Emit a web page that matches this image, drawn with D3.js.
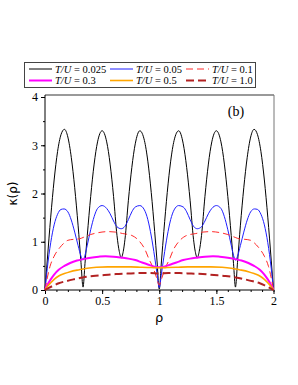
<!DOCTYPE html>
<html>
<head>
<meta charset="utf-8">
<script src="https://cdn.jsdelivr.net/npm/d3@7"></script>
<style>
  body { margin: 0; background: #fff; }
  svg { display: block; }
  .tick text { font-family: "Liberation Serif", "Times New Roman", serif; font-size: 12px; }
</style>
</head>
<body>
<script>
// kappa(rho) curves
var k025 = [[0,0],[0.02,0.62],[0.05,1.51],[0.08,2.28],[0.11,2.87],[0.14,3.22],[0.17,3.33],[0.20,3.17],[0.23,2.75],[0.26,2.12],[0.29,1.33],[0.315,0.57],[0.333,0.06],
  [0.35,0.55],[0.37,1.13],[0.40,1.94],[0.43,2.61],[0.46,3.07],[0.50,3.30],[0.54,3.07],[0.57,2.61],[0.60,1.94],[0.63,1.13],[0.65,0.80],[0.667,0.67],
  [0.685,0.80],[0.70,1.05],[0.73,1.86],[0.76,2.54],[0.79,3.03],[0.83,3.30],[0.87,3.10],[0.90,2.67],[0.93,2.02],[0.96,1.21],[0.98,0.62],[1.0,0.02],
  [1.02,0.62],[1.04,1.21],[1.07,2.02],[1.10,2.67],[1.13,3.10],[1.17,3.30],[1.21,3.03],[1.24,2.54],[1.27,1.86],[1.30,1.05],[1.315,0.80],[1.333,0.67],
  [1.35,0.80],[1.37,1.13],[1.40,1.94],[1.43,2.61],[1.46,3.07],[1.50,3.30],[1.54,3.07],[1.57,2.61],[1.60,1.94],[1.63,1.13],[1.65,0.55],[1.667,0.06],
  [1.685,0.57],[1.71,1.33],[1.74,2.12],[1.77,2.75],[1.80,3.17],[1.83,3.33],[1.86,3.22],[1.89,2.87],[1.92,2.28],[1.95,1.51],[1.98,0.62],[2.0,0]];

var k05 = [[0,0],[0.02,0.45],[0.05,0.98],[0.08,1.35],[0.11,1.57],[0.14,1.67],[0.167,1.68],[0.20,1.62],[0.23,1.45],[0.26,1.20],[0.29,0.92],[0.315,0.70],[0.333,0.62],
  [0.35,0.72],[0.37,0.93],[0.40,1.25],[0.43,1.52],[0.46,1.69],[0.50,1.75],[0.54,1.69],[0.57,1.58],[0.60,1.43],[0.63,1.31],[0.667,1.27],
  [0.70,1.32],[0.73,1.46],[0.76,1.62],[0.79,1.72],[0.83,1.75],[0.87,1.66],[0.90,1.46],[0.93,1.12],[0.96,0.68],[0.98,0.35],[1.0,0.05],
  [1.02,0.35],[1.04,0.68],[1.07,1.12],[1.10,1.46],[1.13,1.66],[1.17,1.75],[1.21,1.72],[1.24,1.62],[1.27,1.46],[1.30,1.32],[1.333,1.27],
  [1.37,1.31],[1.40,1.43],[1.43,1.58],[1.46,1.69],[1.50,1.75],[1.54,1.69],[1.57,1.52],[1.60,1.25],[1.63,0.93],[1.65,0.72],[1.667,0.62],
  [1.685,0.70],[1.71,0.92],[1.74,1.20],[1.77,1.45],[1.80,1.62],[1.833,1.68],[1.86,1.67],[1.89,1.57],[1.92,1.35],[1.95,0.98],[1.98,0.45],[2.0,0]];

var k1 = [[0,0],[0.02,0.25],[0.044,0.49],[0.08,0.70],[0.13,0.88],[0.17,0.98],[0.20,1.03],[0.25,1.05],[0.30,1.06],[0.335,1.09],[0.40,1.15],[0.47,1.19],
  [0.55,1.21],[0.62,1.20],[0.68,1.17],[0.76,1.13],[0.83,1.00],[0.875,0.84],[0.91,0.64],[0.95,0.44],[0.977,0.25],[1.0,0.10],
  [1.023,0.25],[1.05,0.44],[1.09,0.64],[1.125,0.84],[1.17,1.00],[1.24,1.13],[1.32,1.17],[1.38,1.20],[1.45,1.21],[1.53,1.19],[1.60,1.15],
  [1.665,1.09],[1.70,1.06],[1.75,1.05],[1.80,1.03],[1.83,0.98],[1.87,0.88],[1.92,0.70],[1.956,0.49],[1.98,0.25],[2.0,0]];

var k3 = [[0,0],[0.02,0.10],[0.05,0.22],[0.08,0.32],[0.12,0.42],[0.17,0.50],[0.22,0.56],[0.28,0.61],[0.335,0.64],[0.40,0.67],[0.47,0.69],[0.53,0.70],
  [0.60,0.69],[0.67,0.67],[0.73,0.65],[0.79,0.62],[0.85,0.57],[0.90,0.53],[0.95,0.49],[1.0,0.47],
  [1.05,0.49],[1.10,0.53],[1.15,0.57],[1.21,0.62],[1.27,0.65],[1.33,0.67],[1.40,0.69],[1.47,0.70],[1.53,0.69],[1.60,0.67],[1.665,0.64],
  [1.72,0.61],[1.78,0.56],[1.83,0.50],[1.88,0.42],[1.92,0.32],[1.95,0.22],[1.98,0.10],[2.0,0]];

var k5 = [[0,0],[0.02,0.07],[0.05,0.15],[0.08,0.22],[0.12,0.29],[0.17,0.34],[0.22,0.38],[0.30,0.42],[0.37,0.45],[0.45,0.47],[0.55,0.48],[0.65,0.48],
  [0.75,0.48],[0.85,0.47],[0.93,0.465],[1.0,0.46],
  [1.07,0.465],[1.15,0.47],[1.25,0.48],[1.35,0.48],[1.45,0.48],[1.55,0.47],[1.63,0.45],[1.70,0.42],[1.78,0.38],[1.83,0.34],[1.88,0.29],
  [1.92,0.22],[1.95,0.15],[1.98,0.07],[2.0,0]];

var k10 = [[0,0],[0.03,0.04],[0.073,0.09],[0.12,0.14],[0.18,0.18],[0.25,0.22],[0.33,0.26],[0.42,0.29],[0.52,0.31],[0.62,0.33],[0.72,0.34],
  [0.82,0.35],[0.92,0.35],[1.0,0.34],
  [1.08,0.35],[1.18,0.35],[1.28,0.34],[1.38,0.33],[1.48,0.31],[1.58,0.29],[1.67,0.26],[1.75,0.22],[1.82,0.18],[1.88,0.14],[1.927,0.09],[1.97,0.04],[2.0,0]];

var labels = ["0.025", "0.05", "0.1", "0.3", "0.5", "1.0"];
var xTicks = [0, 0.5, 1, 1.5, 2];
var yTicks = [0, 1, 2, 3, 4];

var series = [
  { label: labels[0], data: k025, color: "#000000", width: 1,   dash: null },
  { label: labels[1], data: k05,  color: "#1f1fff", width: 1,   dash: null },
  { label: labels[2], data: k1,   color: "#ff2a2a", width: 1,   dash: "7,4" },
  { label: labels[3], data: k3,   color: "#ff00ff", width: 2,   dash: null },
  { label: labels[4], data: k5,   color: "#ffa500", width: 1.6, dash: null },
  { label: labels[5], data: k10,  color: "#b22222", width: 2,   dash: "8,4" }
];

var W = 298, H = 385;
var plotL = 45, plotR = 273.5, plotT = 97, plotB = 290;

var svg = d3.select("body").append("svg")
    .attr("width", W)
    .attr("height", H);

var x = d3.scaleLinear().domain([0, 2]).range([plotL, plotR]);
var y = d3.scaleLinear().domain([0, 4]).range([plotB, plotT]);

// minor ticks
svg.append("g")
    .attr("transform", "translate(0," + plotB + ")")
    .call(d3.axisBottom(x).tickValues(d3.range(0, 2.01, 0.1)).tickSize(2).tickFormat(""))
    .call(function(g) { g.select(".domain").remove(); });
svg.append("g")
    .attr("transform", "translate(" + plotL + ",0)")
    .call(d3.axisLeft(y).tickValues(d3.range(0, 4.01, 0.5)).tickSize(2).tickFormat(""))
    .call(function(g) { g.select(".domain").remove(); });

// frame top + right (grey)
svg.append("line")
    .attr("x1", plotL).attr("x2", plotR + 0.5)
    .attr("y1", plotT - 2).attr("y2", plotT - 2)
    .attr("stroke", "#999").attr("stroke-width", 2);
svg.append("line")
    .attr("x1", plotR + 0.5).attr("x2", plotR + 0.5)
    .attr("y1", plotT - 2).attr("y2", plotB)
    .attr("stroke", "#777").attr("stroke-width", 1);

// major axes
svg.append("g")
    .attr("transform", "translate(0," + plotB + ")")
    .call(d3.axisBottom(x).tickValues(xTicks).tickSize(4).tickSizeOuter(0).tickPadding(2).tickFormat(d3.format("")))
    .call(function(g) { g.select(".domain").attr("d", "M" + plotL + ",0H" + plotR); });
svg.append("g")
    .attr("transform", "translate(" + plotL + ",0)")
    .call(d3.axisLeft(y).tickValues(yTicks).tickSize(4).tickSizeOuter(0).tickPadding(3).tickFormat(d3.format("")))
    .call(function(g) { g.select(".domain").attr("d", "M0," + plotB + "V" + (plotT - 2)); });

// curves
var line = d3.line()
    .x(function(d) { return x(d[0]); })
    .y(function(d) { return y(d[1]); })
    .curve(d3.curveMonotoneX);

svg.append("g").selectAll("path")
    .data(series)
    .enter().append("path")
    .attr("d", function(d) { return line(d.data); })
    .attr("fill", "none")
    .attr("stroke", function(d) { return d.color; })
    .attr("stroke-width", function(d) { return d.width; })
    .attr("stroke-dasharray", function(d) { return d.dash; })
    .attr("stroke-linejoin", "round");

// panel tag
svg.append("text")
    .attr("x", 236).attr("y", 116)
    .attr("text-anchor", "middle")
    .style("font-family", "Liberation Serif, serif")
    .style("font-size", "14px")
    .text("(b)");

// axis labels
svg.append("text")
    .attr("x", (plotL + plotR) / 2).attr("y", 322)
    .attr("text-anchor", "middle")
    .style("font-family", "DejaVu Sans, sans-serif")
    .style("font-size", "13px")
    .text("ρ");
svg.append("text")
    .attr("transform", "translate(17," + ((plotT + plotB) / 2) + ") rotate(-90)")
    .attr("text-anchor", "middle")
    .style("font-family", "DejaVu Sans, sans-serif")
    .style("font-size", "12px")
    .text("κ(ρ)");

// legend
var legend = svg.append("g");
legend.append("rect")
    .attr("x", 24.5).attr("y", 62.5)
    .attr("width", 231).attr("height", 25)
    .attr("fill", "#fff")
    .attr("stroke", "#444").attr("stroke-width", 1);

var colX = [29, 110, 186];
var rowY = [69, 80.5];

var item = legend.selectAll(".item")
    .data(series)
    .enter().append("g")
    .attr("class", "item")
    .attr("transform", function(d, i) { return "translate(" + colX[i % 3] + "," + rowY[Math.floor(i / 3)] + ")"; });

item.append("line")
    .attr("x1", 0).attr("x2", 23)
    .attr("stroke", function(d) { return d.color; })
    .attr("stroke-width", function(d) { return d.width; })
    .attr("stroke-dasharray", function(d) { return d.dash; });

var txt = item.append("text")
    .attr("x", 26).attr("y", 3.8)
    .style("font-family", "Liberation Serif, serif")
    .style("font-size", "10.5px");
txt.append("tspan").style("font-style", "italic").text("T/U");
txt.append("tspan").text(function(d) { return " = " + d.label; });
</script>
</body>
</html>
